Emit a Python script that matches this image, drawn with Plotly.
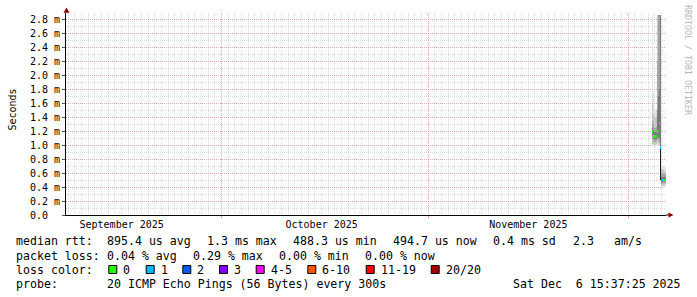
import plotly.graph_objects as go

# ---------------- data (in ms) ----------------
col_time = ["2025-12-04 15:01", "2025-12-04 18:37", "2025-12-04 22:13", "2025-12-05 01:49",
            "2025-12-05 05:25", "2025-12-05 09:01", "2025-12-05 12:37", "2025-12-05 16:13",
            "2025-12-05 19:49", "2025-12-05 23:25", "2025-12-06 03:01", "2025-12-06 06:37",
            "2025-12-06 10:13", "2025-12-06 13:49"]

# smoke bands, outer (lightest) to inner (darkest): low / high ping rtt per column
band1_lo = [1.00, 0.98, 0.97, 0.97, 0.98, 1.00, 1.00, 0.98, 0.50, 0.37, 0.37, 0.38, 0.39, 0.40]
band1_hi = [2.86, 1.75, 1.55, 1.50, 1.52, 2.86, 2.86, 2.86, 2.86, 0.72, 0.72, 0.70, 0.68, 0.66]
band2_lo = [1.02, 1.02, 1.00, 1.00, 1.01, 1.03, 1.03, 1.00, 0.50, 0.42, 0.42, 0.43, 0.43, 0.44]
band2_hi = [1.60, 1.45, 1.40, 1.38, 1.40, 2.86, 2.86, 2.86, 2.86, 0.66, 0.66, 0.64, 0.63, 0.62]
band3_lo = [1.08, 1.06, 1.05, 1.05, 1.06, 1.08, 1.07, 1.05, 0.50, 0.45, 0.45, 0.46, 0.46, 0.46]
band3_hi = [1.35, 1.30, 1.25, 1.24, 1.26, 2.20, 2.86, 2.86, 2.86, 0.60, 0.60, 0.59, 0.58, 0.58]
band4_lo = [1.15, 1.10, 1.08, 1.08, 1.09, 1.12, 1.12, 1.10, 0.50, 0.47, 0.47, 0.48, 0.48, 0.48]
band4_hi = [1.25, 1.20, 1.18, 1.18, 1.19, 1.50, 1.70, 1.80, 2.86, 0.55, 0.55, 0.54, 0.54, 0.54]
band5_lo = [1.19, 1.12, 1.12, 1.12, 1.13, 1.17, 1.20, 1.30, 0.50, 0.50, 0.50, 0.50, 0.50, 0.49]
band5_hi = [1.19, 1.12, 1.12, 1.12, 1.13, 1.17, 1.20, 1.30, 0.97, 0.50, 0.50, 0.50, 0.50, 0.49]

median_rtt = [1.19, 1.12, 1.12, 1.12, 1.13, 1.18, 1.20, 1.31, 0.97, 0.50, 0.50, 0.50, 0.50, 0.495]
loss_count = [0, 0, 0, 0, 0, 0, 0, 0, 1, 1, 1, 0, 0, 0]

y_tick_vals = [0.0, 0.2, 0.4, 0.6, 0.8, 1.0, 1.2, 1.4, 1.6, 1.8, 2.0, 2.2, 2.4, 2.6, 2.8]
y_tick_text = ["0.0\u00a0\u00a0"] + ["%.1f m" % v for v in y_tick_vals[1:]]

month_starts = ["2025-10-01", "2025-11-01", "2025-12-01"]
month_label_dates = ["2025-09-16", "2025-10-16", "2025-11-16"]
month_labels = ["September 2025", "October 2025", "November 2025"]

loss_labels = ["0", "1", "2", "3", "4-5", "6-10", "11-19", "20/20"]
loss_colors = ["#26ff00", "#00b8ff", "#0059ff", "#7e00ff", "#ff00ff", "#ff5500", "#ff0000", "#a10000"]

rtt_stats = ["895.4 us avg", "1.3 ms max", "488.3 us min", "494.7 us now", "0.4 ms sd", "2.3", "am/s"]
loss_stats = ["0.04 % avg", "0.29 % max", "0.00 % min", "0.00 % now"]
probe_text = "20 ICMP Echo Pings (56 Bytes) every 300s"
stamp_text = "Sat Dec  6 15:37:25 2025"

X_START = "2025-09-07 15:37:25"
X_END = "2025-12-06 15:37:25"

# ---------------- layout geometry ----------------
W_IMG, H_IMG = 697, 297
L, R, T, B = 66, 666, 13, 215
PW, PH = R - L, B - T
MS_PER_PX = 1.0 / 70.0
Y_TOP = PH * MS_PER_PX
COL_W = 3.6 * 3600 * 1000  # one pixel column in ms of time

def px(x):
    return (x - L) / PW

def py(y):
    return (B - y) / PH

MONO = "DejaVu Sans Mono"
band_colors = ["#e3e3e3", "#c6c6c6", "#a4a4a4", "#7a7a7a", "#1a1a1a"]
bands = [(band1_lo, band1_hi), (band2_lo, band2_hi), (band3_lo, band3_hi),
         (band4_lo, band4_hi), (band5_lo, band5_hi)]

fig = go.Figure()
for (lo, hi), c in zip(bands, band_colors):
    fig.add_trace(go.Bar(x=col_time, y=[h - l for l, h in zip(lo, hi)], base=lo,
                         width=COL_W, marker=dict(color=c, line=dict(width=0)),
                         hoverinfo="skip", showlegend=False))

half = 1.4 * MS_PER_PX
fig.add_trace(go.Bar(x=col_time, y=[2 * half] * len(median_rtt),
                     base=[m - half for m in median_rtt], width=COL_W,
                     marker=dict(color=[loss_colors[k] for k in loss_count], line=dict(width=0)),
                     hoverinfo="skip", showlegend=False))
# dummy trace for label axis
fig.add_trace(go.Scatter(x=[X_START], y=[None], xaxis="x2", mode="markers",
                         showlegend=False, hoverinfo="skip"))

grid_minor = "rgba(170,170,170,0.42)"
grid_major = "rgba(225,110,110,0.42)"

fig.update_layout(
    width=W_IMG, height=H_IMG,
    margin=dict(l=L, r=W_IMG - R, t=T, b=H_IMG - B, pad=0),
    paper_bgcolor="white", plot_bgcolor="white",
    barmode="overlay", bargap=0,
    font=dict(family=MONO, size=10, color="black"),
    xaxis=dict(type="date", range=[X_START, X_END], tickvals=month_starts,
               ticktext=["", "", ""], showgrid=True, gridcolor=grid_major,
               griddash="1px,1px", gridwidth=1, zeroline=False,
               showline=True, linecolor="black", linewidth=1,
               ticks="outside", ticklen=2, tickcolor="rgba(225,110,110,0.7)",
               minor=dict(tickmode="linear", tick0="2025-09-08", dtick=86400000,
                          showgrid=True, gridcolor=grid_minor, griddash="1px,1px",
                          gridwidth=1, ticks=""),
               fixedrange=True),
    xaxis2=dict(type="date", range=[X_START, X_END], overlaying="x", side="bottom",
                anchor="y", tickvals=month_label_dates, ticktext=month_labels,
                showgrid=False, zeroline=False, showline=False, ticks="",
                tickfont=dict(family=MONO, size=10, color="black"),
                ticklabelstandoff=2),
    yaxis=dict(range=[0, Y_TOP], tickvals=y_tick_vals, ticktext=y_tick_text,
               showgrid=True, gridcolor=grid_major, griddash="1px,1px", gridwidth=1,
               zeroline=False, showline=True, linecolor="black", linewidth=1,
               ticks="outside", ticklen=3, tickcolor="#555",
               tickfont=dict(family=MONO, size=10, color="black"),
               minor=dict(dtick=0.1, tick0=0, showgrid=True, gridcolor=grid_minor,
                          griddash="1px,1px", gridwidth=1, ticks=""),
               fixedrange=True),
)

shapes = []
# axis extension and arrows
shapes.append(dict(type="line", xref="paper", yref="paper", x0=px(R), x1=px(669),
                   y0=py(B), y1=py(B), line=dict(color="black", width=1)))
shapes.append(dict(type="path", xref="paper", yref="paper",
                   path="M %f %f L %f %f L %f %f Z" % (px(668.5), py(212.5), px(673.5), py(215),
                                                      px(668.5), py(217.5)),
                   fillcolor="#8b0000", line=dict(width=0)))
shapes.append(dict(type="path", xref="paper", yref="paper",
                   path="M %f %f L %f %f L %f %f Z" % (px(63.5), py(12.8), px(66.5), py(7.5),
                                                      px(69.5), py(12.8)),
                   fillcolor="#8b0000", line=dict(width=0)))

annotations = []

def txt(x, y, s, size=11.6, color="black", angle=0, xa="left"):
    annotations.append(dict(x=px(x), y=py(y), xref="paper", yref="paper", text=s,
                            showarrow=False, xanchor=xa, yanchor="middle",
                            textangle=angle, borderpad=0,
                            font=dict(family=MONO, size=size, color=color)))

row_y = [241.5, 255.5, 269.5, 283.5]
txt(15, row_y[0], "median rtt:")
for s, x in zip(rtt_stats, [106.3, 206.3, 292.3, 392.3, 492.3, 572.3, 613.3]):
    txt(x, row_y[0], s)
txt(15, row_y[1], "packet loss:")
for s, x in zip(loss_stats, [106.3, 192.3, 278.3, 364.3]):
    txt(x, row_y[1], s)
txt(15, row_y[2], "loss color:")
box_x = [108.3, 145.7, 182.3, 219.0, 255.7, 307.3, 365.7, 430.7]
for lbl, col, bx in zip(loss_labels, loss_colors, box_x):
    shapes.append(dict(type="rect", xref="paper", yref="paper",
                       x0=px(bx + 0.5), x1=px(bx + 8.5), y0=py(265.5), y1=py(273.5),
                       fillcolor=col, line=dict(color="black", width=1)))
    txt(bx + 14, row_y[2], lbl)
txt(15, row_y[3], "probe:")
txt(106.3, row_y[3], probe_text)
txt(512.3, row_y[3], stamp_text)

txt(11.5, 110, "Seconds", size=10, angle=-90, xa="center")
txt(688, 60, "RRDTOOL / TOBI OETIKER", size=8.3, color="#b8b8b8", angle=90, xa="center")

fig.update_layout(shapes=shapes, annotations=annotations)
fig.write_html("out.html")
